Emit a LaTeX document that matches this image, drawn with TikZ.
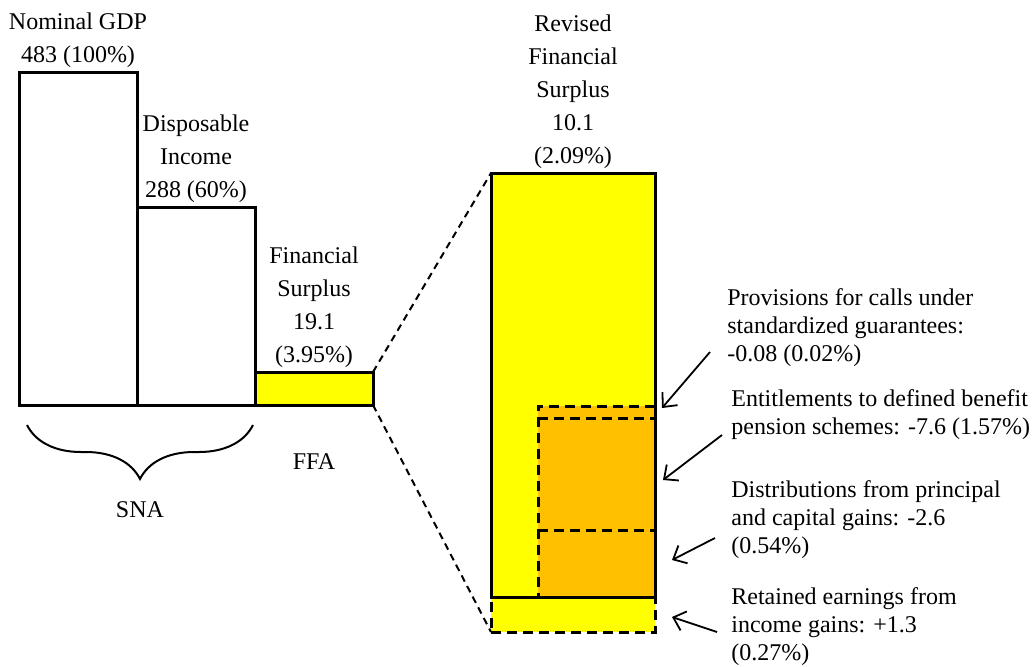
\documentclass[tikz,border=0pt]{standalone}
\usepackage{fontspec}
\setmainfont{Liberation Serif}
\usetikzlibrary{arrows.meta,positioning,decorations.pathreplacing}
\definecolor{barYellow}{RGB}{255,255,0}
\definecolor{barOrange}{RGB}{255,192,0}
\tikzset{
    %Define standard arrow tip
    >={Straight Barb[length=5.5pt,width=10pt]},
    %Define style for bars
    bar/.style={
           rectangle,
           draw=black, line width=1.5pt,
           inner sep=0pt, outer sep=0pt},
    fillbar/.style={
           rectangle,
           inner sep=0pt, outer sep=0pt,
           fill=barYellow},
    dashbar/.style={
           rectangle,
           draw=black, line width=1.5pt,
           dash pattern=on 5pt off 3pt,
           inner sep=0pt, outer sep=0pt},
    dashline/.style={
           line width=1.5pt,
           dash pattern=on 5pt off 3pt},
    %Define style for labels
    toplabel/.style={
           align=center, inner sep=1pt,
           font=\fontsize{12}{16.5}\selectfont},
    sidelabel/.style={
           align=left, anchor=west, inner sep=0pt,
           font=\fontsize{12}{14}\selectfont},
    % Define arrow style
    pil/.style={
           ->,
           line width=0.9pt},
    zoomline/.style={
           line width=1pt,
           dash pattern=on 3.5pt off 2.5pt}
}

\begin{document}
\begin{tikzpicture}[x=0.5pt,y=-0.5pt]
\useasboundingbox (0,0) rectangle (1035,666);
 %bars
\node[bar, minimum width=59pt, minimum height=166.5pt] (gdp) at (78,238.5) {};
\node[bar, minimum width=59pt, minimum height=99pt] (disp) at (196,306) {};
\node[bar, fill=barYellow, minimum width=59pt, minimum height=16.5pt] (fs) at (314,388.5) {};
 %revised bar
\node[fillbar, minimum width=82pt, minimum height=212pt] (rev) at (573,385) {};
\node[fillbar, fill=barOrange, minimum width=58.5pt, minimum height=6pt] (prov) at (596.5,412) {};
\node[fillbar, fill=barOrange, minimum width=58.5pt, minimum height=56pt] (pens) at (596.5,474) {};
\node[fillbar, fill=barOrange, minimum width=58.5pt, minimum height=33.5pt] (dist) at (596.5,563.5) {};
\draw[dashline] (prov.north east) -- (prov.north west) -- (dist.south west);
\draw[dashline] (prov.south west) -- (prov.south east);
\draw[dashline] (dist.north west) -- (dist.north east);
\node[dashbar, fill=barYellow, minimum width=82pt, minimum height=17.5pt] (ret) at (573,614.5) {};
\draw[line width=1.5pt] (rev.north west) rectangle (rev.south east);
 %labels
\node[toplabel, above=1pt of gdp] (gdplbl) {Nominal GDP\\483 (100\%)};
\node[toplabel, above=1pt of disp] (displbl) {Disposable\\Income\\288 (60\%)};
\node[toplabel, above=1pt of fs] (fslbl) {Financial\\Surplus\\19.1\\(3.95\%)};
\node[toplabel, above=1pt of rev] (revlbl) {Revised\\Financial\\Surplus\\10.1\\(2.09\%)};
\draw[line width=1pt, decorate, decoration={brace, mirror, amplitude=27pt}]
  ([shift={(8,20)}]gdp.south west) -- ([shift={(-2,20)}]disp.south east);
\node[toplabel] (sna) at (140,510) {SNA};
\node[toplabel] (ffa) at (314,462) {FFA};
\node[sidelabel] (provlbl) at (727,328) {Provisions for calls under\\standardized guarantees:\\-0.08 (0.02\%)};
\node[sidelabel] (penslbl) at (731,415) {Entitlements to defined benefit\\pension schemes: -7.6 (1.57\%)};
\node[sidelabel] (distlbl) at (731,520) {Distributions from principal\\and capital gains: -2.6\\(0.54\%)};
\node[sidelabel] (retlbl) at (731,627) {Retained earnings from\\income gains: +1.3\\(0.27\%)};
 %arrows
\coordinate (t1) at (710,352); \coordinate (h1) at (662,408);
\coordinate (t2) at (722,435); \coordinate (h2) at (663,480);
\coordinate (t3) at (715,538); \coordinate (h3) at (672,560);
\coordinate (t4) at (717,632); \coordinate (h4) at (672,617);
\draw[pil] (t1) -- (h1);
\draw[pil] (t2) -- (h2);
\draw[pil] (t3) -- (h3);
\draw[pil] (t4) -- (h4);
\draw[zoomline] (fs.north east) -- (rev.north west);
\draw[zoomline] (fs.south east) -- (ret.south west);
\end{tikzpicture}
\end{document}
